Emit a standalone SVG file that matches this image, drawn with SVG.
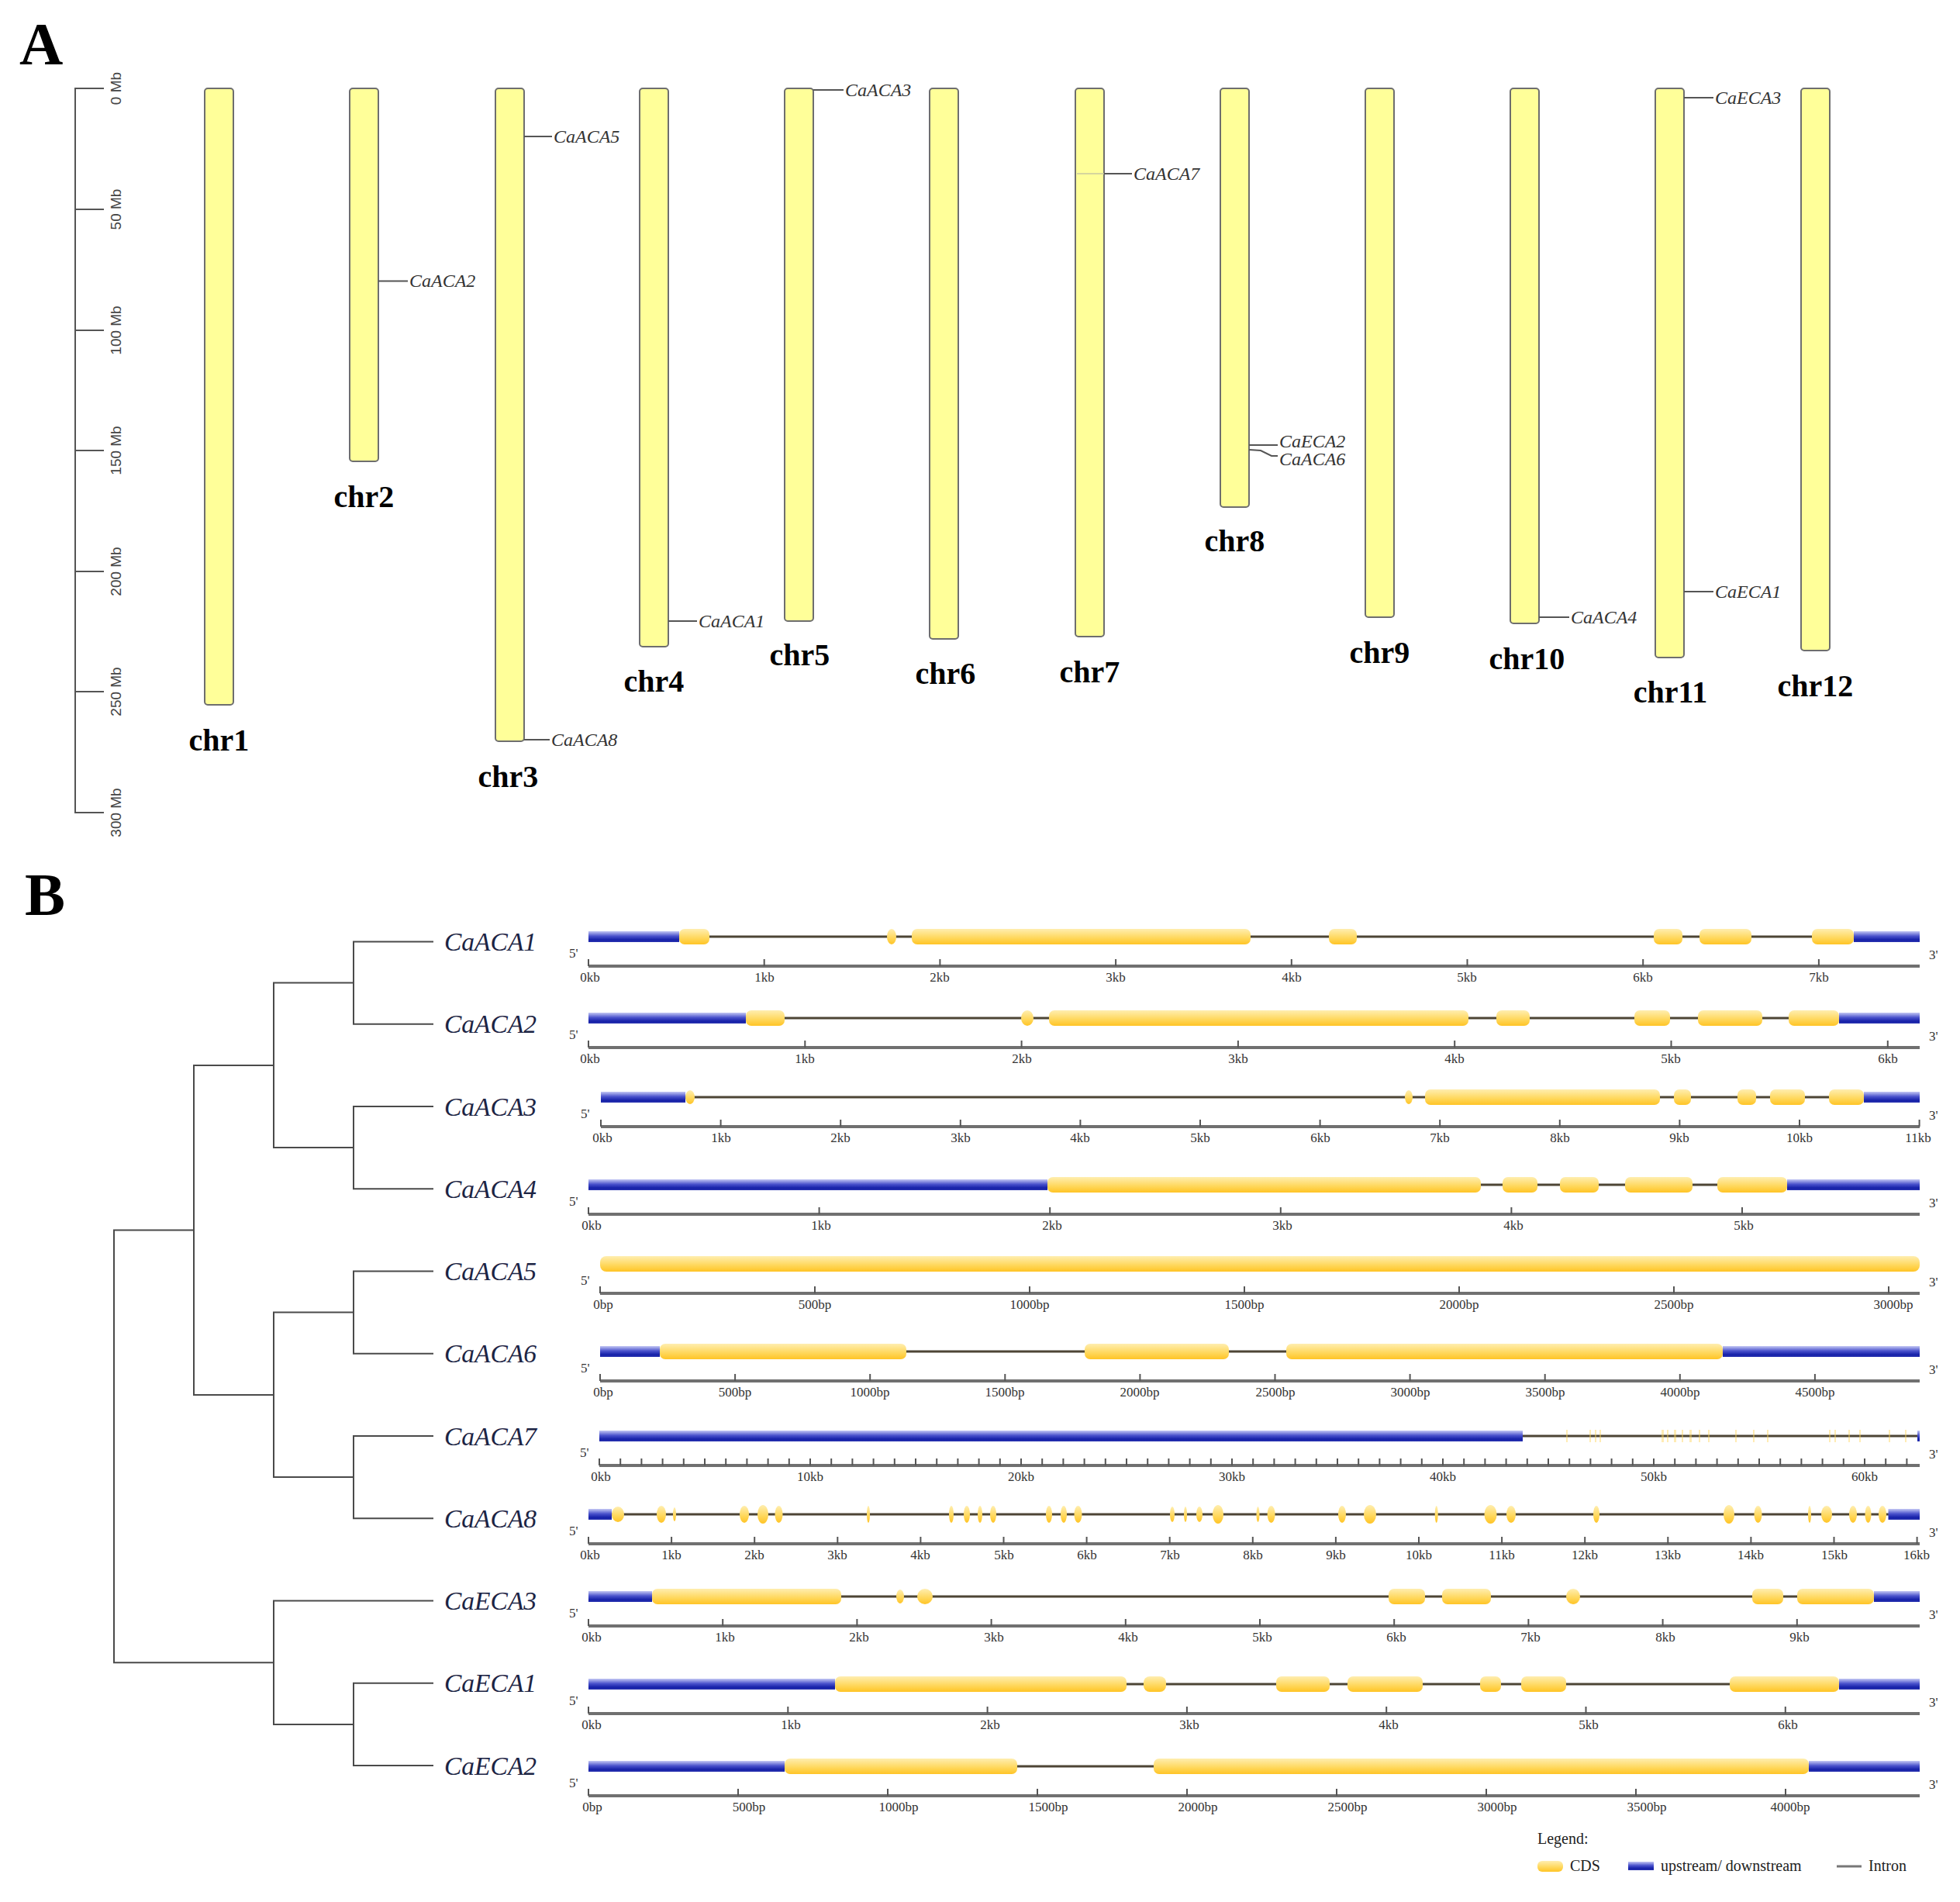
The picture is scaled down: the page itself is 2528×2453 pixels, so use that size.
<svg xmlns="http://www.w3.org/2000/svg" width="2528" height="2453" viewBox="0 0 2528 2453">
<style>
.chr{fill:#ffff99;stroke:#6e6e6e;stroke-width:2}
.mk{stroke:#555;stroke-width:2;fill:none}
.gl{font-family:"Liberation Serif",serif;font-style:italic;font-size:24px;fill:#333}
.cl{font-family:"Liberation Serif",serif;font-weight:bold;font-size:40px;text-anchor:middle;fill:#000}
.sbt{font-family:"Liberation Sans",sans-serif;font-size:19px;fill:#444;text-anchor:middle}
.pl{font-family:"Liberation Serif",serif;font-weight:bold;font-size:78px;fill:#000}
.tr{stroke:#4a4a4a;stroke-width:2;fill:none}
.ln{font-family:"Liberation Serif",serif;font-style:italic;font-size:33.5px;fill:#1c2444}
.up{fill:url(#gb)}
.cds{fill:url(#gy)}
.intr{stroke:#4d4535;stroke-width:3}
.ax{stroke:#707070;stroke-width:4}
.tk{stroke:#555;stroke-width:2;fill:none}
.tl{font-family:"Liberation Serif",serif;font-size:17px;fill:#333;text-anchor:middle}
.pr{font-family:"Liberation Serif",serif;font-size:17px;fill:#333}
.lg{font-family:"Liberation Serif",serif;font-size:20px;fill:#222}
</style>
<defs>
<linearGradient id="gb" x1="0" y1="0" x2="0" y2="1">
<stop offset="0" stop-color="#c4c8f4"/>
<stop offset="0.45" stop-color="#4a52cc"/>
<stop offset="0.8" stop-color="#1520a8"/>
<stop offset="1" stop-color="#2a33b0"/>
</linearGradient>
<linearGradient id="gy" x1="0" y1="0" x2="0" y2="1">
<stop offset="0" stop-color="#ffeeb0"/>
<stop offset="0.6" stop-color="#ffd75a"/>
<stop offset="1" stop-color="#ffc426"/>
</linearGradient>
</defs>
<rect width="2528" height="2453" fill="#fff"/>

<!-- Panel A -->
<text class="pl" x="25" y="83">A</text>
<g id="scalebar">
<path class="mk" d="M134,114H97V1048H134M97,270H134M97,426H134M97,581H134M97,737H134M97,892H134"/>
<text class="sbt" transform="translate(156,114) rotate(-90)">0 Mb</text>
<text class="sbt" transform="translate(156,270) rotate(-90)">50 Mb</text>
<text class="sbt" transform="translate(156,426) rotate(-90)">100 Mb</text>
<text class="sbt" transform="translate(156,581) rotate(-90)">150 Mb</text>
<text class="sbt" transform="translate(156,737) rotate(-90)">200 Mb</text>
<text class="sbt" transform="translate(156,892) rotate(-90)">250 Mb</text>
<text class="sbt" transform="translate(156,1048) rotate(-90)">300 Mb</text>
</g>
<g id="chr1"><rect class="chr" x="264" y="114" width="37" height="795" rx="4"/><text class="cl" x="282.5" y="968">chr1</text></g>
<g id="chr2"><rect class="chr" x="451" y="114" width="37" height="481" rx="4"/><text class="cl" x="469.5" y="654">chr2</text>
<path class="mk" d="M488,362.5H526"/><text class="gl" x="528" y="370">CaACA2</text></g>
<g id="chr3"><rect class="chr" x="639" y="114" width="37" height="842" rx="4"/><text class="cl" x="655.5" y="1015">chr3</text>
<path class="mk" d="M676,176H712"/><text class="gl" x="714" y="184">CaACA5</text>
<path class="mk" d="M676,954H709"/><text class="gl" x="711" y="962">CaACA8</text></g>
<g id="chr4"><rect class="chr" x="825" y="114" width="37" height="720" rx="4"/><text class="cl" x="843.5" y="892">chr4</text>
<path class="mk" d="M862,801H899"/><text class="gl" x="901" y="809">CaACA1</text></g>
<g id="chr5"><rect class="chr" x="1012" y="114" width="37" height="687" rx="4"/><text class="cl" x="1031.5" y="858">chr5</text>
<path class="mk" d="M1049,116H1088"/><text class="gl" x="1090" y="124">CaACA3</text></g>
<g id="chr6"><rect class="chr" x="1199" y="114" width="37" height="710" rx="4"/><text class="cl" x="1219.5" y="882">chr6</text></g>
<g id="chr7"><rect class="chr" x="1387" y="114" width="37" height="707" rx="4"/><text class="cl" x="1405.5" y="880">chr7</text>
<path d="M1389,224H1424" stroke="#c8c8a0" stroke-width="1.5"/><path class="mk" d="M1424,224H1460"/><text class="gl" x="1462" y="232">CaACA7</text></g>
<g id="chr8"><rect class="chr" x="1574" y="114" width="37" height="540" rx="4"/><text class="cl" x="1592.5" y="711">chr8</text>
<path class="mk" d="M1611,574H1648"/><text class="gl" x="1650" y="577">CaECA2</text>
<path class="mk" d="M1611,580L1626,581L1640,588H1648"/><text class="gl" x="1650" y="600">CaACA6</text></g>
<g id="chr9"><rect class="chr" x="1761" y="114" width="37" height="682" rx="4"/><text class="cl" x="1779.5" y="855">chr9</text></g>
<g id="chr10"><rect class="chr" x="1948" y="114" width="37" height="690" rx="4"/><text class="cl" x="1969.5" y="863">chr10</text>
<path class="mk" d="M1985,796H2024"/><text class="gl" x="2026" y="804">CaACA4</text></g>
<g id="chr11"><rect class="chr" x="2135" y="114" width="37" height="734" rx="4"/><text class="cl" x="2154.5" y="906">chr11</text>
<path class="mk" d="M2172,126H2210"/><text class="gl" x="2212" y="134">CaECA3</text>
<path class="mk" d="M2172,763H2210"/><text class="gl" x="2212" y="771">CaECA1</text></g>
<g id="chr12"><rect class="chr" x="2323" y="114" width="37" height="725" rx="4"/><text class="cl" x="2341.5" y="898">chr12</text></g>

<!-- Panel B -->
<text class="pl" x="32" y="1180">B</text>
<g id="tree">
<path class="tr" d="M559,1214.5H456V1320.75H559M559,1427H456V1533.25H559M559,1639.5H456V1745.75H559M559,1852H456V1958.25H559M559,2170.75H456V2277H559M456,1267.6H353V1480.1H456M456,1692.6H353V1905.1H456M559,2064.5H353V2223.9H456M353,1373.9H250V1798.9H353M250,1586.4H147V2144.2H353"/>
<text class="ln" x="573" y="1226">CaACA1</text>
<text class="ln" x="573" y="1332">CaACA2</text>
<text class="ln" x="573" y="1439">CaACA3</text>
<text class="ln" x="573" y="1545">CaACA4</text>
<text class="ln" x="573" y="1651">CaACA5</text>
<text class="ln" x="573" y="1757">CaACA6</text>
<text class="ln" x="573" y="1864">CaACA7</text>
<text class="ln" x="573" y="1970">CaACA8</text>
<text class="ln" x="573" y="2076">CaECA3</text>
<text class="ln" x="573" y="2182">CaECA1</text>
<text class="ln" x="573" y="2289">CaECA2</text>
</g>

<!-- Row 1 CaACA1 -->
<g id="g-CaACA1" transform="translate(0,1208)">
<path class="intr" d="M876,0H2391"/>
<rect class="up" x="759" y="-7" width="117" height="14"/>
<rect class="cds" x="876" y="-10" width="39" height="20" rx="7"/>
<ellipse class="cds" cx="1150" cy="0" rx="6" ry="10"/>
<rect class="cds" x="1176" y="-10" width="437" height="20" rx="7"/>
<rect class="cds" x="1714" y="-10" width="36" height="20" rx="7"/>
<rect class="cds" x="2133" y="-10" width="37" height="20" rx="7"/>
<rect class="cds" x="2192" y="-10" width="67" height="20" rx="7"/>
<rect class="cds" x="2337" y="-10" width="54" height="20" rx="7"/>
<rect class="up" x="2391" y="-7" width="85" height="14"/>
<path class="ax" d="M759,38H2476"/>
<path class="tk" d="M759,29V38M985.7,29V38M1212.4,29V38M1439.1,29V38M1665.8,29V38M1892.5,29V38M2119.2,29V38M2345.9,29V38"/>
<text class="pr" x="734" y="27">5'</text><text class="pr" x="2488" y="29">3'</text>
<text class="tl" x="761" y="58">0kb</text><text class="tl" x="986" y="58">1kb</text><text class="tl" x="1212" y="58">2kb</text><text class="tl" x="1439" y="58">3kb</text><text class="tl" x="1666" y="58">4kb</text><text class="tl" x="1892" y="58">5kb</text><text class="tl" x="2119" y="58">6kb</text><text class="tl" x="2346" y="58">7kb</text>
</g>

<!-- Row 2 CaACA2 -->
<g id="g-CaACA2" transform="translate(0,1313)">
<path class="intr" d="M962,0H2372"/>
<rect class="up" x="759" y="-7" width="203" height="14"/>
<rect class="cds" x="962" y="-10" width="50" height="20" rx="7"/>
<ellipse class="cds" cx="1325" cy="0" rx="8" ry="10"/>
<rect class="cds" x="1353" y="-10" width="541" height="20" rx="7"/>
<rect class="cds" x="1930" y="-10" width="43" height="20" rx="7"/>
<rect class="cds" x="2108" y="-10" width="46" height="20" rx="7"/>
<rect class="cds" x="2190" y="-10" width="83" height="20" rx="7"/>
<rect class="cds" x="2307" y="-10" width="65" height="20" rx="7"/>
<rect class="up" x="2372" y="-7" width="104" height="14"/>
<path class="ax" d="M759,38H2476"/>
<path class="tk" d="M759,29V38M1038.3,29V38M1317.6,29V38M1596.9,29V38M1876.2,29V38M2155.5,29V38M2434.8,29V38"/>
<text class="pr" x="734" y="27">5'</text><text class="pr" x="2488" y="29">3'</text>
<text class="tl" x="761" y="58">0kb</text><text class="tl" x="1038" y="58">1kb</text><text class="tl" x="1318" y="58">2kb</text><text class="tl" x="1597" y="58">3kb</text><text class="tl" x="1876" y="58">4kb</text><text class="tl" x="2155" y="58">5kb</text><text class="tl" x="2435" y="58">6kb</text>
</g>

<!-- Row 3 CaACA3 -->
<g id="g-CaACA3" transform="translate(0,1415)">
<path class="intr" d="M884,0H2404"/>
<rect class="up" x="775" y="-7" width="109" height="14"/>
<ellipse class="cds" cx="890" cy="0" rx="6" ry="9"/>
<ellipse class="cds" cx="1817" cy="0" rx="5" ry="9"/>
<rect class="cds" x="1838" y="-10" width="303" height="20" rx="7"/>
<rect class="cds" x="2159" y="-10" width="22" height="20" rx="7"/>
<rect class="cds" x="2241" y="-10" width="24" height="20" rx="7"/>
<rect class="cds" x="2283" y="-10" width="45" height="20" rx="7"/>
<rect class="cds" x="2359" y="-10" width="45" height="20" rx="7"/>
<rect class="up" x="2404" y="-7" width="72" height="14"/>
<path class="ax" d="M775,38H2476"/>
<path class="tk" d="M775,29V38M929.6,29V38M1084.2,29V38M1238.8,29V38M1393.4,29V38M1548,29V38M1702.6,29V38M1857.2,29V38M2011.8,29V38M2166.4,29V38M2321,29V38M2475.6,29V38"/>
<text class="pr" x="749" y="27">5'</text><text class="pr" x="2488" y="29">3'</text>
<text class="tl" x="777" y="58">0kb</text><text class="tl" x="930" y="58">1kb</text><text class="tl" x="1084" y="58">2kb</text><text class="tl" x="1239" y="58">3kb</text><text class="tl" x="1393" y="58">4kb</text><text class="tl" x="1548" y="58">5kb</text><text class="tl" x="1703" y="58">6kb</text><text class="tl" x="1857" y="58">7kb</text><text class="tl" x="2012" y="58">8kb</text><text class="tl" x="2166" y="58">9kb</text><text class="tl" x="2321" y="58">10kb</text><text class="tl" x="2474" y="58">11kb</text>
</g>

<!-- Row 4 CaACA4 -->
<g id="g-CaACA4" transform="translate(0,1528)">
<path class="intr" d="M1351,0H2305"/>
<rect class="up" x="759" y="-7" width="592" height="14"/>
<rect class="cds" x="1351" y="-10" width="559" height="20" rx="7"/>
<rect class="cds" x="1938" y="-10" width="45" height="20" rx="7"/>
<rect class="cds" x="2012" y="-10" width="50" height="20" rx="7"/>
<rect class="cds" x="2096" y="-10" width="87" height="20" rx="7"/>
<rect class="cds" x="2215" y="-10" width="90" height="20" rx="7"/>
<rect class="up" x="2305" y="-7" width="171" height="14"/>
<path class="ax" d="M759,38H2476"/>
<path class="tk" d="M759,29V38M1056.6,29V38M1354.2,29V38M1651.8,29V38M1949.4,29V38M2247,29V38"/>
<text class="pr" x="734" y="27">5'</text><text class="pr" x="2488" y="29">3'</text>
<text class="tl" x="763" y="58">0kb</text><text class="tl" x="1059" y="58">1kb</text><text class="tl" x="1357" y="58">2kb</text><text class="tl" x="1654" y="58">3kb</text><text class="tl" x="1952" y="58">4kb</text><text class="tl" x="2249" y="58">5kb</text>
</g>

<!-- Row 5 CaACA5 -->
<g id="g-CaACA5" transform="translate(0,1630)">
<rect class="cds" x="774" y="-10" width="1702" height="20" rx="8"/>
<path class="ax" d="M774,38H2476"/>
<path class="tk" d="M774,29V38M1051,29V38M1328,29V38M1605,29V38M1882,29V38M2159,29V38M2436,29V38"/>
<text class="pr" x="749" y="27">5'</text><text class="pr" x="2488" y="29">3'</text>
<text class="tl" x="778" y="58">0bp</text><text class="tl" x="1051" y="58">500bp</text><text class="tl" x="1328" y="58">1000bp</text><text class="tl" x="1605" y="58">1500bp</text><text class="tl" x="1882" y="58">2000bp</text><text class="tl" x="2159" y="58">2500bp</text><text class="tl" x="2442" y="58">3000bp</text>
</g>

<!-- Row 6 CaACA6 -->
<g id="g-CaACA6" transform="translate(0,1743)">
<path class="intr" d="M851,0H2222"/>
<rect class="up" x="774" y="-7" width="77" height="14"/>
<rect class="cds" x="851" y="-10" width="318" height="20" rx="7"/>
<rect class="cds" x="1399" y="-10" width="186" height="20" rx="7"/>
<rect class="cds" x="1659" y="-10" width="563" height="20" rx="7"/>
<rect class="up" x="2222" y="-7" width="254" height="14"/>
<path class="ax" d="M774,38H2476"/>
<path class="tk" d="M774,29V38M948.1,29V38M1122.2,29V38M1296.3,29V38M1470.4,29V38M1644.5,29V38M1818.6,29V38M1992.7,29V38M2166.8,29V38M2340.9,29V38"/>
<text class="pr" x="749" y="27">5'</text><text class="pr" x="2488" y="29">3'</text>
<text class="tl" x="778" y="58">0bp</text><text class="tl" x="948" y="58">500bp</text><text class="tl" x="1122" y="58">1000bp</text><text class="tl" x="1296" y="58">1500bp</text><text class="tl" x="1470" y="58">2000bp</text><text class="tl" x="1645" y="58">2500bp</text><text class="tl" x="1819" y="58">3000bp</text><text class="tl" x="1993" y="58">3500bp</text><text class="tl" x="2167" y="58">4000bp</text><text class="tl" x="2341" y="58">4500bp</text>
</g>

<!-- Row 7 CaACA7 -->
<g id="g-CaACA7" transform="translate(0,1852)">
<path class="intr" d="M1964,0H2474"/>
<rect class="up" x="773" y="-7" width="1191" height="14"/>
<g fill="#ffd75a" opacity="0.45">
<rect x="2020" y="-8" width="2" height="16"/><rect x="2050" y="-8" width="2" height="16"/><rect x="2057" y="-8" width="2" height="16"/><rect x="2063" y="-8" width="2" height="16"/>
<rect x="2143" y="-8" width="3" height="16"/><rect x="2150" y="-8" width="2" height="16"/><rect x="2159" y="-8" width="3" height="16"/><rect x="2169" y="-8" width="2" height="16"/><rect x="2179" y="-8" width="3" height="16"/><rect x="2191" y="-8" width="2" height="16"/><rect x="2203" y="-8" width="2" height="16"/>
<rect x="2238" y="-8" width="2" height="16"/><rect x="2261" y="-8" width="2" height="16"/><rect x="2279" y="-8" width="2" height="16"/>
<rect x="2359" y="-8" width="2" height="16"/><rect x="2366" y="-8" width="2" height="16"/><rect x="2384" y="-8" width="2" height="16"/><rect x="2398" y="-8" width="2" height="16"/>
<rect x="2436" y="-8" width="2" height="16"/><rect x="2457" y="-8" width="2" height="16"/>
</g>
<rect class="up" x="2473" y="-7" width="3" height="14"/>
<path class="ax" d="M773,38H2476"/>
<path d="M772,33.5H2462" stroke="#555" stroke-width="9" stroke-dasharray="2 25.2"/>
<text class="pr" x="748" y="27">5'</text><text class="pr" x="2488" y="29">3'</text>
<text class="tl" x="775" y="58">0kb</text><text class="tl" x="1045" y="58">10kb</text><text class="tl" x="1317" y="58">20kb</text><text class="tl" x="1589" y="58">30kb</text><text class="tl" x="1861" y="58">40kb</text><text class="tl" x="2133" y="58">50kb</text><text class="tl" x="2405" y="58">60kb</text>
</g>

<!-- Row 8 CaACA8 -->
<g id="g-CaACA8" transform="translate(0,1953)">
<path class="intr" d="M789,0H2436"/>
<rect class="up" x="759" y="-7" width="30" height="14"/>
<g class="cds">
<ellipse cx="797" cy="0" rx="8" ry="10"/><ellipse cx="853" cy="0" rx="6" ry="11"/><ellipse cx="870" cy="0" rx="2" ry="9"/>
<ellipse cx="960" cy="0" rx="6" ry="11"/><ellipse cx="984" cy="0" rx="7" ry="12"/><ellipse cx="1004.5" cy="0" rx="5" ry="11"/>
<ellipse cx="1120" cy="0" rx="2" ry="11"/><ellipse cx="1227" cy="0" rx="3" ry="11"/><ellipse cx="1247" cy="0" rx="4" ry="11"/>
<ellipse cx="1264" cy="0" rx="3" ry="11"/><ellipse cx="1281" cy="0" rx="4" ry="11"/><ellipse cx="1353" cy="0" rx="4" ry="11"/>
<ellipse cx="1372" cy="0" rx="4" ry="11"/><ellipse cx="1390.5" cy="0" rx="5" ry="11"/><ellipse cx="1512" cy="0" rx="3" ry="10"/>
<ellipse cx="1529" cy="0" rx="2" ry="10"/><ellipse cx="1547" cy="0" rx="4" ry="10"/><ellipse cx="1571" cy="0" rx="7" ry="12"/>
<ellipse cx="1622.5" cy="0" rx="2" ry="10"/><ellipse cx="1639.6" cy="0" rx="5" ry="11"/><ellipse cx="1731" cy="0" rx="5" ry="11"/>
<ellipse cx="1767" cy="0" rx="8" ry="12"/><ellipse cx="1852.7" cy="0" rx="2" ry="11"/><ellipse cx="1922.5" cy="0" rx="8" ry="12"/>
<ellipse cx="1949" cy="0" rx="6" ry="11"/><ellipse cx="2059" cy="0" rx="4" ry="11"/><ellipse cx="2230" cy="0" rx="7" ry="12"/>
<ellipse cx="2267.5" cy="0" rx="5" ry="11"/><ellipse cx="2334" cy="0" rx="2" ry="11"/><ellipse cx="2356" cy="0" rx="7" ry="11"/>
<ellipse cx="2390" cy="0" rx="5" ry="11"/><ellipse cx="2409.5" cy="0" rx="4" ry="11"/><ellipse cx="2428" cy="0" rx="5" ry="11"/>
</g>
<rect class="up" x="2435.5" y="-7" width="40.5" height="14"/>
<path class="ax" d="M759,38H2476"/>
<path class="tk" d="M759,29V38M866.1,29V38M973.2,29V38M1080.3,29V38M1187.4,29V38M1294.5,29V38M1401.6,29V38M1508.7,29V38M1615.8,29V38M1722.9,29V38M1830,29V38M1937.1,29V38M2044.2,29V38M2151.3,29V38M2258.4,29V38M2365.5,29V38M2472.6,29V38"/>
<text class="pr" x="734" y="27">5'</text><text class="pr" x="2488" y="29">3'</text>
<text class="tl" x="761" y="58">0kb</text><text class="tl" x="866" y="58">1kb</text><text class="tl" x="973" y="58">2kb</text><text class="tl" x="1080" y="58">3kb</text><text class="tl" x="1187" y="58">4kb</text><text class="tl" x="1295" y="58">5kb</text><text class="tl" x="1402" y="58">6kb</text><text class="tl" x="1509" y="58">7kb</text><text class="tl" x="1616" y="58">8kb</text><text class="tl" x="1723" y="58">9kb</text><text class="tl" x="1830" y="58">10kb</text><text class="tl" x="1937" y="58">11kb</text><text class="tl" x="2044" y="58">12kb</text><text class="tl" x="2151" y="58">13kb</text><text class="tl" x="2258" y="58">14kb</text><text class="tl" x="2366" y="58">15kb</text><text class="tl" x="2472" y="58">16kb</text>
</g>

<!-- Row 9 CaECA3 -->
<g id="g-CaECA3" transform="translate(0,2059)">
<path class="intr" d="M841,0H2417"/>
<rect class="up" x="759" y="-7" width="82" height="14"/>
<rect class="cds" x="841" y="-10" width="244" height="20" rx="7"/>
<ellipse class="cds" cx="1161" cy="0" rx="5" ry="9"/>
<ellipse class="cds" cx="1193" cy="0" rx="10" ry="10"/>
<rect class="cds" x="1791" y="-10" width="47" height="20" rx="7"/>
<rect class="cds" x="1860" y="-10" width="63" height="20" rx="7"/>
<ellipse class="cds" cx="2029" cy="0" rx="9" ry="10"/>
<rect class="cds" x="2260" y="-10" width="40" height="20" rx="7"/>
<rect class="cds" x="2318" y="-10" width="99" height="20" rx="7"/>
<rect class="up" x="2417" y="-7" width="59" height="14"/>
<path class="ax" d="M759,38H2476"/>
<path class="tk" d="M759,29V38M932.2,29V38M1105.4,29V38M1278.6,29V38M1451.8,29V38M1625,29V38M1798.2,29V38M1971.4,29V38M2144.6,29V38M2317.8,29V38"/>
<text class="pr" x="734" y="27">5'</text><text class="pr" x="2488" y="29">3'</text>
<text class="tl" x="763" y="58">0kb</text><text class="tl" x="935" y="58">1kb</text><text class="tl" x="1108" y="58">2kb</text><text class="tl" x="1282" y="58">3kb</text><text class="tl" x="1455" y="58">4kb</text><text class="tl" x="1628" y="58">5kb</text><text class="tl" x="1801" y="58">6kb</text><text class="tl" x="1974" y="58">7kb</text><text class="tl" x="2148" y="58">8kb</text><text class="tl" x="2321" y="58">9kb</text>
</g>

<!-- Row 10 CaECA1 -->
<g id="g-CaECA1" transform="translate(0,2172)">
<path class="intr" d="M1077,0H2372"/>
<rect class="up" x="759" y="-7" width="318" height="14"/>
<rect class="cds" x="1077" y="-10" width="376" height="20" rx="7"/>
<rect class="cds" x="1475" y="-10" width="29" height="20" rx="8"/>
<rect class="cds" x="1646" y="-10" width="69" height="20" rx="7"/>
<rect class="cds" x="1738" y="-10" width="97" height="20" rx="7"/>
<rect class="cds" x="1909" y="-10" width="27" height="20" rx="7"/>
<rect class="cds" x="1962" y="-10" width="58" height="20" rx="7"/>
<rect class="cds" x="2231" y="-10" width="141" height="20" rx="7"/>
<rect class="up" x="2372" y="-7" width="104" height="14"/>
<path class="ax" d="M759,38H2476"/>
<path class="tk" d="M759,29V38M1016.3,29V38M1273.6,29V38M1530.9,29V38M1788.2,29V38M2045.5,29V38M2302.8,29V38"/>
<text class="pr" x="734" y="27">5'</text><text class="pr" x="2488" y="29">3'</text>
<text class="tl" x="763" y="58">0kb</text><text class="tl" x="1020" y="58">1kb</text><text class="tl" x="1277" y="58">2kb</text><text class="tl" x="1534" y="58">3kb</text><text class="tl" x="1791" y="58">4kb</text><text class="tl" x="2049" y="58">5kb</text><text class="tl" x="2306" y="58">6kb</text>
</g>

<!-- Row 11 CaECA2 -->
<g id="g-CaECA2" transform="translate(0,2278)">
<path class="intr" d="M1312,0H1488"/>
<rect class="up" x="759" y="-7" width="253" height="14"/>
<rect class="cds" x="1012" y="-10" width="300" height="20" rx="7"/>
<rect class="cds" x="1488" y="-10" width="845" height="20" rx="7"/>
<rect class="up" x="2333" y="-7" width="143" height="14"/>
<path class="ax" d="M759,38H2476"/>
<path class="tk" d="M759,29V38M952,29V38M1145,29V38M1338,29V38M1531,29V38M1724,29V38M1917,29V38M2110,29V38M2303,29V38"/>
<text class="pr" x="734" y="27">5'</text><text class="pr" x="2488" y="29">3'</text>
<text class="tl" x="764" y="58">0bp</text><text class="tl" x="966" y="58">500bp</text><text class="tl" x="1159" y="58">1000bp</text><text class="tl" x="1352" y="58">1500bp</text><text class="tl" x="1545" y="58">2000bp</text><text class="tl" x="1738" y="58">2500bp</text><text class="tl" x="1931" y="58">3000bp</text><text class="tl" x="2124" y="58">3500bp</text><text class="tl" x="2309" y="58">4000bp</text>
</g>

<!-- Legend -->
<g id="legend">
<text class="lg" x="1983" y="2378" font-size="24">Legend:</text>
<rect class="cds" x="1983" y="2400" width="33" height="14" rx="6"/>
<text class="lg" x="2025" y="2413">CDS</text>
<rect class="up" x="2100" y="2401" width="33" height="11"/>
<text class="lg" x="2142" y="2413">upstream/ downstream</text>
<path d="M2369,2407H2401" stroke="#777" stroke-width="3"/>
<text class="lg" x="2410" y="2413">Intron</text>
</g>
</svg>
